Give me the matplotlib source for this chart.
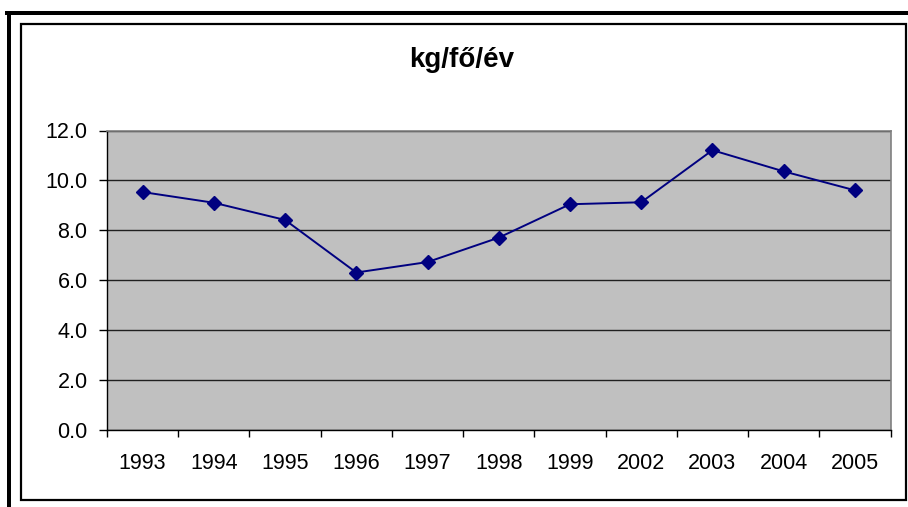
import numpy as np
import matplotlib
matplotlib.use("Agg")
import matplotlib.pyplot as plt
from matplotlib.lines import Line2D
from matplotlib.patches import Rectangle

# data
years = ["1993", "1994", "1995", "1996", "1997", "1998", "1999", "2002", "2003", "2004", "2005"]
values = [9.53, 9.10, 8.41, 6.30, 6.72, 7.70, 9.04, 9.12, 11.21, 10.36, 9.60]
title = "kg/fő/év"

W, H = 908, 507
plt.rcParams['font.family'] = ['Liberation Sans', 'DejaVu Sans']
fig = plt.figure(figsize=(W/100, H/100), dpi=100)

def fx(px): return px / W
def fy(py): return 1 - py / H

# plot area in pixel coords
left, right, top, bottom = 107, 890.5, 130.5, 429.5
ax = fig.add_axes([fx(left), fy(bottom), fx(right) - fx(left), fy(top) - fy(bottom)])
ax.set_facecolor("#c0c0c0")

x = np.arange(len(years))
ax.plot(x, values, color="#000080", lw=1.4, marker="D", ms=7.5, mfc="#000080", mec="#000080", zorder=3)

ax.set_xlim(-0.5, len(years) - 0.5)
ax.set_ylim(0, 12)
ax.set_yticks(np.arange(0, 12.1, 2))
ax.set_yticklabels(["%.1f" % v for v in np.arange(0, 12.1, 2)])
ax.set_xticks(np.arange(-0.5, len(years), 1))
ax.set_xticklabels([])
ax.set_xticks(x, minor=True)
ax.set_xticklabels(years, minor=True)
ax.tick_params(axis="x", which="major", direction="out", length=5, width=1, color="black")
ax.tick_params(axis="x", which="minor", length=0, pad=17, labelsize=15.5)
ax.tick_params(axis="y", direction="out", length=6, width=1, pad=8, labelsize=15.5)
ax.yaxis.grid(True, color="#202020", lw=1)
ax.set_axisbelow(True)
for s in ["top", "right"]:
    ax.spines[s].set_color("#808080")
    ax.spines[s].set_linewidth(1.2)
for s in ["left", "bottom"]:
    ax.spines[s].set_color("black")
    ax.spines[s].set_linewidth(1.0)

fig.text(fx(462), fy(60), title, ha="center", va="center", fontsize=20, fontweight="bold")

# outer frame: thick L on top/left, thinner box inside
lw_outer = 4 * 0.72
fig.add_artist(Line2D([fx(9), fx(9)], [fy(H + 5), fy(13)], color="black", lw=lw_outer, transform=fig.transFigure))
fig.add_artist(Line2D([fx(7), fx(W + 5)], [fy(13), fy(13)], color="black", lw=lw_outer, transform=fig.transFigure))
fig.add_artist(Rectangle((fx(20.5), fy(500)), fx(906) - fx(20.5), fy(23.7) - fy(500),
                         fill=False, ec="black", lw=1.6, transform=fig.transFigure))

fig.savefig("out.png", dpi=100)
